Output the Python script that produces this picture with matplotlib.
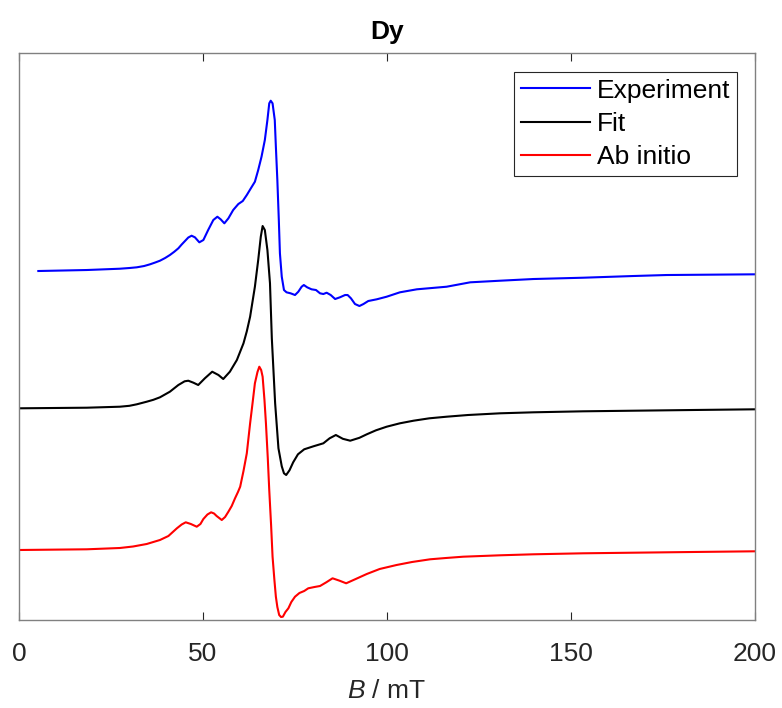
import matplotlib
matplotlib.use("Agg")
import matplotlib.pyplot as plt
import numpy as np

plt.rcParams['font.family'] = ['Liberation Sans', 'DejaVu Sans']
plt.rcParams['mathtext.fontset'] = 'custom'
plt.rcParams['mathtext.it'] = 'Liberation Sans:italic'
plt.rcParams['mathtext.rm'] = 'Liberation Sans'

# field (mT) and signal (arb. units, relative to each trace's baseline)
B_exp = [5.25, 18.4, 27.4, 30.0, 32.0, 34.0, 35.6, 37.0, 38.3, 39.7, 41.0, 42.2, 43.3, 44.2, 45.1,
         46.0, 46.9, 47.8, 49.0, 50.1, 51.4, 52.8, 53.9, 54.8, 55.8, 56.9, 58.2, 59.6, 60.8,
         61.9, 63.0, 64.1, 65.0, 65.9, 66.8, 67.5, 68.0, 68.4, 68.9, 69.5, 69.8, 70.2, 70.6,
         70.9, 71.4, 72.0, 72.7, 73.8, 75.0, 75.9, 76.8, 77.4, 78.3, 79.5, 80.7,
         81.8, 82.7, 83.6, 84.7, 85.9, 87.2, 88.6, 89.3, 90.2, 91.3, 92.5, 93.6,
         94.9, 97.2, 99.9, 103.5, 108.1, 116.2, 122.6, 130.7, 139.8, 153.3,
         166.9, 176.0, 200.0]
I_exp = [0.0, 1.0, 2.3, 3.0, 3.7, 5.0, 6.7, 8.5, 10.3, 13.0, 16.0, 19.3, 22.7, 26.5, 30.0,
         33.5, 35.3, 33.7, 28.7, 31.0, 41.0, 51.0, 54.3, 51.7, 47.7, 52.7, 61.0, 67.0, 70.0,
         76.0, 82.7, 89.3, 101.0, 114.3, 131.0, 151.0, 167.7, 170.3, 167.7, 151.0, 124.3, 91.0, 51.0,
         17.7, -5.7, -19.0, -21.3, -22.3, -24.0, -20.7, -15.7, -14.0, -16.3, -18.3, -19.0,
         -22.3, -23.0, -21.7, -24.0, -28.0, -26.3, -24.0, -24.0, -27.3, -33.0, -35.0, -33.0,
         -30.0, -28.3, -25.7, -21.3, -18.3, -15.7, -11.3, -9.7, -8.0, -6.7,
         -5.0, -4.0, -3.3]

B_fit = [0.0, 18.4, 27.4, 30.0, 32.0, 34.7, 36.5, 38.3, 41.0, 43.3, 45.0, 46.0, 47.4, 48.7, 50.5,
         52.5, 54.2, 55.5, 57.3, 59.2, 61.0, 61.9, 62.8, 64.1, 65.0, 65.7, 66.2, 66.8,
         67.5, 68.2, 68.7, 69.6, 70.5, 71.4, 72.0, 72.6, 73.5, 74.5, 75.8, 77.5,
         80.0, 82.7, 84.4, 86.1, 88.0, 90.0, 92.5, 94.5, 97.0, 99.9, 103.5, 107.2,
         111.5, 116.2, 122.0, 130.7, 139.8, 153.3, 166.9, 183.0, 200.0]
I_fit = [0.0, 0.6, 1.6, 2.5, 4.0, 6.6, 8.5, 11.0, 16.6, 23.3, 27.0, 27.6, 25.6, 23.3, 30.0,
         36.6, 33.3, 29.3, 36.6, 48.3, 65.0, 77.0, 91.6, 121.6, 148.3, 171.6, 182.3, 178.3,
         158.3, 125.0, 70.0, 5.0, -40.0, -58.0, -65.0, -66.7, -62.0, -54.0, -46.0, -41.0,
         -38.0, -35.0, -30.0, -26.7, -30.5, -32.4, -29.5, -26.0, -22.0, -18.4, -15.0, -12.4,
         -10.0, -8.4, -6.7, -5.0, -4.0, -3.0, -2.4, -1.7, -1.0]

B_abi = [0.0, 18.4, 27.4, 31.0, 34.7, 36.5, 38.3, 40.6, 42.9, 44.2, 45.3, 46.7, 48.3, 49.3,
         50.1, 51.2, 52.2, 53.0, 53.7, 55.1, 56.0, 56.9, 57.8, 58.7, 59.5, 60.1, 61.0, 61.9, 62.8,
         63.5, 64.1, 64.8, 65.3, 65.8, 66.2, 66.7, 67.1, 67.6, 68.0, 68.5, 68.9, 69.4,
         69.8, 70.2, 70.7, 71.2, 71.7, 72.4, 73.2, 74.0, 75.0, 76.2, 77.5, 78.6,
         80.3, 81.8, 83.5, 85.2, 87.1, 88.9, 91.5, 94.5, 98.0, 102.6, 106.8, 111.7,
         116.0, 120.7, 130.7, 139.8, 153.3, 166.9, 183.0, 200.0]
I_abi = [0.0, 0.7, 2.0, 3.5, 6.0, 8.0, 10.0, 14.0, 21.7, 25.5, 27.7, 26.0, 23.3, 26.0,
         31.0, 35.5, 37.7, 36.5, 34.0, 30.0, 33.0, 38.3, 44.0, 51.7, 58.0, 63.3, 79.0, 96.7, 126.7,
         148.0, 166.7, 178.0, 183.3, 180.0, 173.3, 150.0, 126.7, 92.0, 60.0, 25.0, -6.7, -30.0,
         -46.7, -57.0, -65.0, -67.0, -66.7, -62.0, -58.3, -52.0, -46.7, -43.0, -41.0, -38.3,
         -37.0, -36.0, -32.3, -28.3, -30.7, -33.3, -29.0, -24.0, -19.0, -15.0, -12.0, -9.3,
         -8.0, -6.7, -5.3, -4.3, -3.3, -2.7, -2.0, -1.3]

offsets = [349.0, 211.7, 70.0]
labels = ["Experiment", "Fit", "Ab initio"]
colors = ["#0000ff", "#000000", "#ff0000"]

fig = plt.figure(figsize=(7.82, 7.08), dpi=100)
ax = fig.add_axes([0.0243, 0.1243, 0.9412, 0.8008])

series = [(B_exp, I_exp), (B_fit, I_fit), (B_abi, I_abi)]
for (b, i), off, lab, c in zip(series, offsets, labels, colors):
    ax.plot(b, np.array(i) + off, color=c, lw=1.5, label=lab)

ax.set_xlim(0, 200)
ax.set_ylim(0, 567)
ax.set_xticks([0, 50, 100, 150, 200])
ax.set_yticks([])
ax.tick_params(axis='x', direction='in', top=True, length=6, width=0.8,
               labelsize=19, pad=16, colors='#262626')
for s in ax.spines.values():
    s.set_color('#808080')
    s.set_linewidth(1.0)
ax.set_xlabel("$B$ / mT", fontsize=19, color='#262626', labelpad=9)
ax.set_title("Dy", fontsize=19, fontweight='bold', pad=10)

leg = ax.legend(loc='upper right', bbox_to_anchor=(0.9755, 0.9665), borderaxespad=0,
                fontsize=19, handlelength=2.6, handletextpad=0.28, labelspacing=0.35,
                borderpad=0.25, fancybox=False, framealpha=1)
leg.get_frame().set_edgecolor('#262626')
leg.get_frame().set_linewidth(0.8)

fig.savefig("out.png", dpi=100)
